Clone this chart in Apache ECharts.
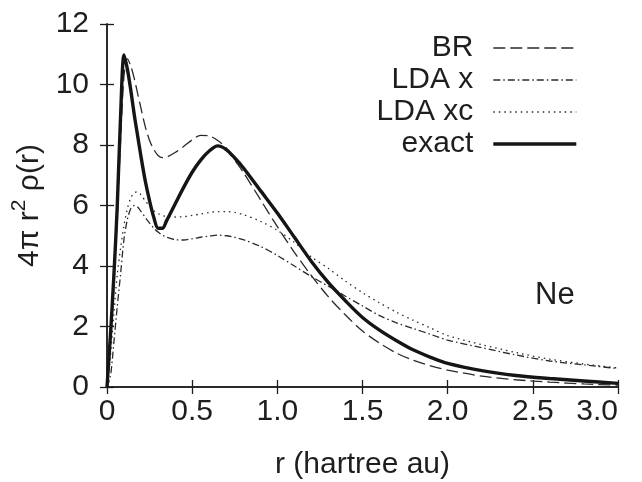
<!DOCTYPE html>
<html>
<head>
<meta charset="utf-8">
<script src="https://cdn.jsdelivr.net/npm/echarts@6/dist/echarts.min.js"></script>
<style>html,body{margin:0;padding:0;background:#fff;}#c{width:642px;height:482px;}</style>
</head>
<body>
<div id="c"></div>
<script>
var r = [0, 0.02, 0.04, 0.06, 0.08, 0.1, 0.12, 0.14, 0.16, 0.18, 0.2, 0.225, 0.25, 0.275, 0.3, 0.325, 0.35, 0.4, 0.45, 0.5, 0.55, 0.6, 0.65, 0.7, 0.75, 0.8, 0.9, 1.0, 1.1, 1.2, 1.3, 1.4, 1.5, 1.6, 1.7, 1.8, 1.9, 2.0, 2.2, 2.4, 2.6, 2.8, 3.0];
var exact = [0, 1.7, 3.65, 5.95, 9.0, 10.98, 10.5, 9.8, 9.0, 8.3, 7.6, 6.8, 6.15, 5.6, 5.25, 5.25, 5.5, 6.05, 6.6, 7.1, 7.5, 7.8, 7.97, 7.85, 7.57, 7.25, 6.5, 5.75, 4.95, 4.15, 3.45, 2.85, 2.3, 1.88, 1.53, 1.22, 0.98, 0.78, 0.54, 0.38, 0.28, 0.2, 0.12];
var br = [0, 1.4, 3.3, 5.6, 8.2, 10.3, 10.85, 10.6, 10.2, 9.7, 9.2, 8.6, 8.15, 7.85, 7.65, 7.58, 7.6, 7.75, 7.95, 8.17, 8.32, 8.3, 8.15, 7.9, 7.5, 7.1, 6.2, 5.3, 4.45, 3.68, 2.98, 2.38, 1.85, 1.45, 1.12, 0.88, 0.7, 0.56, 0.36, 0.24, 0.16, 0.1, 0.06];
var ldaX = [0, 0.35, 1.45, 2.65, 3.75, 4.9, 5.55, 5.9, 6.0, 5.95, 5.8, 5.6, 5.42, 5.25, 5.12, 5.02, 4.95, 4.87, 4.86, 4.9, 4.95, 4.99, 5.02, 5.0, 4.95, 4.87, 4.65, 4.35, 4.0, 3.65, 3.33, 3.0, 2.68, 2.36, 2.12, 1.93, 1.74, 1.55, 1.3, 1.06, 0.86, 0.73, 0.61];
var ldaXC = [0, 1.0, 2.4, 3.7, 4.6, 5.35, 5.9, 6.25, 6.42, 6.45, 6.35, 6.15, 5.98, 5.83, 5.73, 5.67, 5.64, 5.62, 5.63, 5.67, 5.72, 5.77, 5.8, 5.8, 5.77, 5.7, 5.48, 5.18, 4.78, 4.3, 3.92, 3.5, 3.12, 2.78, 2.47, 2.2, 1.95, 1.7, 1.4, 1.14, 0.92, 0.76, 0.63];
var seriesNames = ['BR', 'LDA x', 'LDA xc', 'exact'];
var xTicks = { min: 0, max: 3, interval: 0.5 };
var yTicks = { min: 0, max: 12, interval: 2 };

function pairs(ys) { return r.map(function (x, i) { return [x, ys[i]]; }); }

var FONT = '"Liberation Sans", Arial, Helvetica, sans-serif';
var INK = '#1e1e1e';
var THIN = 1.3, THICK = 3.4;
var axisLine = { show: true, lineStyle: { color: INK, width: 1.5 } };
var axisTick = { show: true, inside: true, length: 7, lineStyle: { color: INK, width: 1.3 } };

var chart = echarts.init(document.getElementById('c'), null, { renderer: 'canvas' });
chart.setOption({
  animation: false,
  backgroundColor: '#fff',
  textStyle: { fontFamily: FONT },
  grid: { left: 107, right: 24, top: 24, bottom: 95, containLabel: false, outerBoundsMode: 'none' },
  legend: {
    data: seriesNames.map(function (n) {
      return { name: n, lineStyle: { width: n === 'exact' ? THICK : THIN } };
    }),
    orient: 'vertical',
    align: 'right',
    right: 64,
    top: 33,
    padding: 0,
    itemWidth: 83,
    itemHeight: 14,
    itemGap: 2,
    itemStyle: { opacity: 0 },
    textStyle: { fontSize: 30, color: INK, fontFamily: FONT, padding: [0, 15, 0, 0] },
    selectedMode: false
  },
  xAxis: [{
    type: 'value', position: 'bottom', min: xTicks.min, max: xTicks.max, interval: xTicks.interval,
    axisLine: axisLine, axisTick: axisTick, splitLine: { show: false },
    axisLabel: { fontSize: 30, color: INK, margin: 10, fontFamily: FONT, alignMaxLabel: 'right',
      formatter: function (v) { return v === 0 ? '0' : v.toFixed(1); } },
    name: 'r (hartree au)', nameLocation: 'middle', nameGap: 63,
    nameTextStyle: { fontSize: 30, color: INK, fontFamily: FONT }
  }, {
    type: 'value', position: 'top', min: xTicks.min, max: xTicks.max, interval: xTicks.interval,
    axisLine: axisLine, axisTick: axisTick, splitLine: { show: false }, axisLabel: { show: false }
  }],
  yAxis: [{
    type: 'value', position: 'left', min: yTicks.min, max: yTicks.max, interval: yTicks.interval,
    axisLine: axisLine, axisTick: axisTick, splitLine: { show: false },
    axisLabel: { fontSize: 30, color: INK, margin: 18, fontFamily: FONT },
    name: '{a|4π r}{s|2}{a| ρ(r)}', nameLocation: 'middle', nameGap: 62,
    nameTextStyle: { fontSize: 30, color: INK, fontFamily: FONT,
      rich: {
        a: { fontSize: 30, color: INK, fontFamily: FONT, lineHeight: 36, verticalAlign: 'bottom' },
        s: { fontSize: 21, color: INK, fontFamily: FONT, lineHeight: 36, verticalAlign: 'top' }
      } }
  }, {
    type: 'value', position: 'right', min: yTicks.min, max: yTicks.max, interval: yTicks.interval,
    axisLine: axisLine, axisTick: axisTick, splitLine: { show: false }, axisLabel: { show: false }
  }],
  graphic: [{
    type: 'text', left: 535, top: 280, z: 10,
    style: { text: 'Ne', fontSize: 31, fill: INK, fontFamily: FONT }
  }],
  series: [{
    name: 'BR', type: 'line', data: pairs(br), smooth: 0.3, symbol: 'none',
    lineStyle: { color: '#2a2a2a', width: THIN, type: [12, 5] }, itemStyle: { color: '#2a2a2a' }
  }, {
    name: 'LDA x', type: 'line', data: pairs(ldaX), smooth: 0.3, symbol: 'none',
    lineStyle: { color: '#2a2a2a', width: THIN, type: [7, 3, 1.5, 3] }, itemStyle: { color: '#2a2a2a' }
  }, {
    name: 'LDA xc', type: 'line', data: pairs(ldaXC), smooth: 0.3, symbol: 'none',
    lineStyle: { color: '#2a2a2a', width: THIN, type: [1.5, 4] }, itemStyle: { color: '#2a2a2a' }
  }, {
    name: 'exact', type: 'line', data: pairs(exact), smooth: 0.3, symbol: 'none', z: 5,
    lineStyle: { color: '#151515', width: THICK }, itemStyle: { color: '#151515' }
  }]
});
</script>
</body>
</html>
